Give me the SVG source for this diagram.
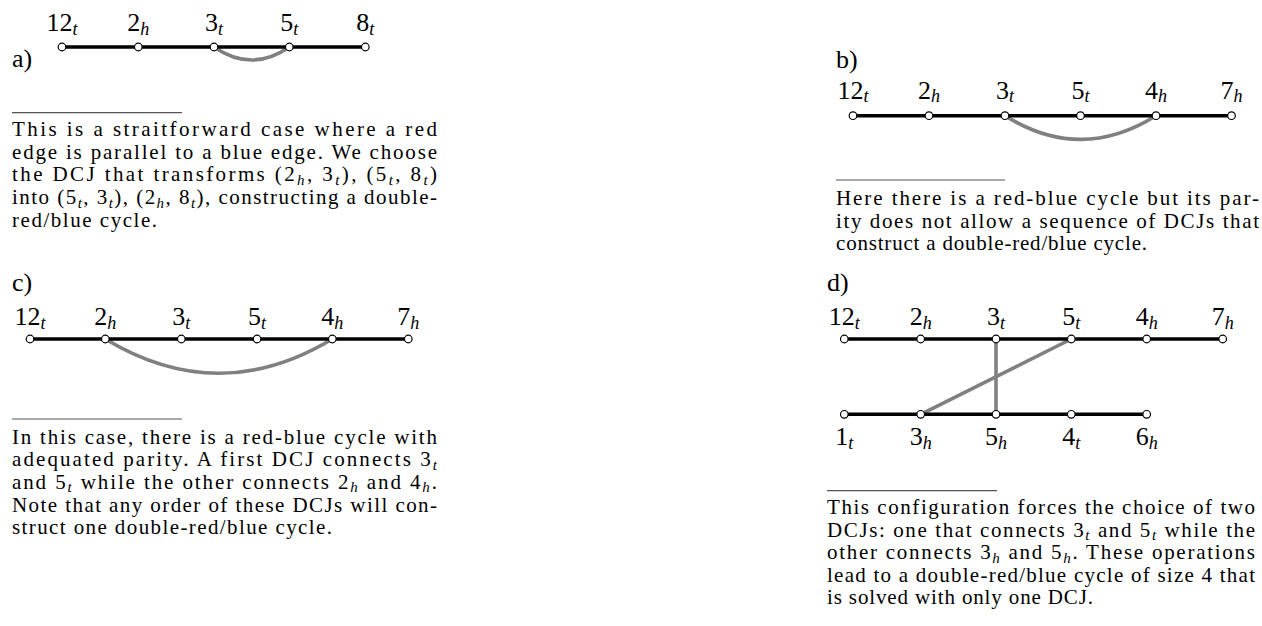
<svg xmlns="http://www.w3.org/2000/svg" width="1262" height="626" viewBox="0 0 1262 626">
<style>
.bk{stroke:#000;stroke-width:3.6;fill:none}
.gr{stroke:#808080;stroke-width:3.6;fill:none}
.nd{fill:#fff;stroke:#000;stroke-width:1.2}
.rule{stroke:#555;stroke-width:1.2}
.lbl{font-family:"Liberation Serif",serif;font-size:26px;text-anchor:middle;fill:#000}
.ls{font-size:18px;font-style:italic}
.tag{font-family:"Liberation Serif",serif;font-size:26px;fill:#000}
.cap{font-family:"Liberation Serif",serif;font-size:21px;fill:#000}
.cs{font-size:15px;font-style:italic}
</style>
<rect width="1262" height="626" fill="#fff"/>

<g id="connectors">
<path class="gr" d="M214 47 Q251.7 73 289.3 47"/>
<path class="bk" d="M62 47 H365.3"/>
<path class="gr" d="M1005 115.7 Q1080.5 163 1156 115.7"/>
<path class="bk" d="M853 115.7 H1231.5"/>
<path class="gr" d="M105.3 339 Q218.8 407.5 332.3 339"/>
<path class="bk" d="M30 339 H408.3"/>
<path class="gr" d="M996 339 V414.3"/>
<path class="gr" d="M1071.3 339 L920.7 414.3"/>
<path class="bk" d="M844.3 339 H1222.7"/>
<path class="bk" d="M844.3 414.3 H1146.7"/>
</g>

<g id="a-12t"><circle class="nd" cx="62" cy="47" r="3.8"/><text class="lbl" x="62" y="31">12<tspan class="ls" dy="3.5">t</tspan></text></g>
<g id="a-2h"><circle class="nd" cx="138.3" cy="47" r="3.8"/><text class="lbl" x="138.3" y="31">2<tspan class="ls" dy="3.5">h</tspan></text></g>
<g id="a-3t"><circle class="nd" cx="214" cy="47" r="3.8"/><text class="lbl" x="214" y="31">3<tspan class="ls" dy="3.5">t</tspan></text></g>
<g id="a-5t"><circle class="nd" cx="289.3" cy="47" r="3.8"/><text class="lbl" x="289.3" y="31">5<tspan class="ls" dy="3.5">t</tspan></text></g>
<g id="a-8t"><circle class="nd" cx="365.3" cy="47" r="3.8"/><text class="lbl" x="365.3" y="31">8<tspan class="ls" dy="3.5">t</tspan></text></g>
<text class="tag" x="12" y="66.5">a)</text>
<line class="rule" x1="12" y1="112.7" x2="182" y2="112.7"/>
<g class="cap">
<text x="12" y="136" textLength="425" lengthAdjust="spacing">This is a straitforward case where a red</text>
<text x="12" y="158.7" textLength="425" lengthAdjust="spacing">edge is parallel to a blue edge. We choose</text>
<text x="12" y="181.3" textLength="425" lengthAdjust="spacing">the DCJ that transforms (2<tspan class="cs" dy="3.5">h</tspan><tspan dy="-3.5">, 3</tspan><tspan class="cs" dy="3.5">t</tspan><tspan dy="-3.5">), (5</tspan><tspan class="cs" dy="3.5">t</tspan><tspan dy="-3.5">, 8</tspan><tspan class="cs" dy="3.5">t</tspan><tspan dy="-3.5">)</tspan></text>
<text x="12" y="204" textLength="425" lengthAdjust="spacing">into (5<tspan class="cs" dy="3.5">t</tspan><tspan dy="-3.5">, 3</tspan><tspan class="cs" dy="3.5">t</tspan><tspan dy="-3.5">), (2</tspan><tspan class="cs" dy="3.5">h</tspan><tspan dy="-3.5">, 8</tspan><tspan class="cs" dy="3.5">t</tspan><tspan dy="-3.5">), constructing a double-</tspan></text>
<text x="12" y="226.7" textLength="145" lengthAdjust="spacing">red/blue cycle.</text>
</g>

<text class="tag" x="836" y="68">b)</text>
<g id="b-12t"><circle class="nd" cx="853" cy="115.7" r="3.8"/><text class="lbl" x="853" y="98.5">12<tspan class="ls" dy="3.5">t</tspan></text></g>
<g id="b-2h"><circle class="nd" cx="929" cy="115.7" r="3.8"/><text class="lbl" x="929" y="98.5">2<tspan class="ls" dy="3.5">h</tspan></text></g>
<g id="b-3t"><circle class="nd" cx="1005" cy="115.7" r="3.8"/><text class="lbl" x="1005" y="98.5">3<tspan class="ls" dy="3.5">t</tspan></text></g>
<g id="b-5t"><circle class="nd" cx="1080.5" cy="115.7" r="3.8"/><text class="lbl" x="1080.5" y="98.5">5<tspan class="ls" dy="3.5">t</tspan></text></g>
<g id="b-4h"><circle class="nd" cx="1156" cy="115.7" r="3.8"/><text class="lbl" x="1156" y="98.5">4<tspan class="ls" dy="3.5">h</tspan></text></g>
<g id="b-7h"><circle class="nd" cx="1231.5" cy="115.7" r="3.8"/><text class="lbl" x="1231.5" y="98.5">7<tspan class="ls" dy="3.5">h</tspan></text></g>
<line class="rule" x1="836" y1="180" x2="1005" y2="180"/>
<g class="cap">
<text x="836" y="205" textLength="423" lengthAdjust="spacing">Here there is a red-blue cycle but its par-</text>
<text x="836" y="227.7" textLength="423" lengthAdjust="spacing">ity does not allow a sequence of DCJs that</text>
<text x="836" y="250.4" textLength="311" lengthAdjust="spacing">construct a double-red/blue cycle.</text>
</g>

<text class="tag" x="12" y="290.5">c)</text>
<g id="c-12t"><circle class="nd" cx="30" cy="339" r="3.8"/><text class="lbl" x="30" y="325">12<tspan class="ls" dy="3.5">t</tspan></text></g>
<g id="c-2h"><circle class="nd" cx="105.3" cy="339" r="3.8"/><text class="lbl" x="105.3" y="325">2<tspan class="ls" dy="3.5">h</tspan></text></g>
<g id="c-3t"><circle class="nd" cx="181.3" cy="339" r="3.8"/><text class="lbl" x="181.3" y="325">3<tspan class="ls" dy="3.5">t</tspan></text></g>
<g id="c-5t"><circle class="nd" cx="257" cy="339" r="3.8"/><text class="lbl" x="257" y="325">5<tspan class="ls" dy="3.5">t</tspan></text></g>
<g id="c-4h"><circle class="nd" cx="332.3" cy="339" r="3.8"/><text class="lbl" x="332.3" y="325">4<tspan class="ls" dy="3.5">h</tspan></text></g>
<g id="c-7h"><circle class="nd" cx="408.3" cy="339" r="3.8"/><text class="lbl" x="408.3" y="325">7<tspan class="ls" dy="3.5">h</tspan></text></g>
<line class="rule" x1="12" y1="419" x2="182" y2="419"/>
<g class="cap">
<text x="12" y="443.5" textLength="425" lengthAdjust="spacing">In this case, there is a red-blue cycle with</text>
<text x="12" y="466.2" textLength="425" lengthAdjust="spacing">adequated parity. A first DCJ connects 3<tspan class="cs" dy="3.5">t</tspan></text>
<text x="12" y="488.9" textLength="425" lengthAdjust="spacing">and 5<tspan class="cs" dy="3.5">t</tspan><tspan dy="-3.5"> while the other connects 2</tspan><tspan class="cs" dy="3.5">h</tspan><tspan dy="-3.5"> and 4</tspan><tspan class="cs" dy="3.5">h</tspan><tspan dy="-3.5">.</tspan></text>
<text x="12" y="511.6" textLength="425" lengthAdjust="spacing">Note that any order of these DCJs will con-</text>
<text x="12" y="534.3" textLength="320" lengthAdjust="spacing">struct one double-red/blue cycle.</text>
</g>

<text class="tag" x="827" y="290.5">d)</text>
<g id="d-12t"><circle class="nd" cx="844.3" cy="339" r="3.8"/><text class="lbl" x="844.3" y="325">12<tspan class="ls" dy="3.5">t</tspan></text></g>
<g id="d-2h"><circle class="nd" cx="920.7" cy="339" r="3.8"/><text class="lbl" x="920.7" y="325">2<tspan class="ls" dy="3.5">h</tspan></text></g>
<g id="d-3t"><circle class="nd" cx="996" cy="339" r="3.8"/><text class="lbl" x="996" y="325">3<tspan class="ls" dy="3.5">t</tspan></text></g>
<g id="d-5t"><circle class="nd" cx="1071.3" cy="339" r="3.8"/><text class="lbl" x="1071.3" y="325">5<tspan class="ls" dy="3.5">t</tspan></text></g>
<g id="d-4h"><circle class="nd" cx="1146.7" cy="339" r="3.8"/><text class="lbl" x="1146.7" y="325">4<tspan class="ls" dy="3.5">h</tspan></text></g>
<g id="d-7h"><circle class="nd" cx="1222.7" cy="339" r="3.8"/><text class="lbl" x="1222.7" y="325">7<tspan class="ls" dy="3.5">h</tspan></text></g>
<g id="d-1t"><circle class="nd" cx="844.3" cy="414.3" r="3.8"/><text class="lbl" x="844.3" y="445">1<tspan class="ls" dy="3.5">t</tspan></text></g>
<g id="d-3h"><circle class="nd" cx="920.7" cy="414.3" r="3.8"/><text class="lbl" x="920.7" y="445">3<tspan class="ls" dy="3.5">h</tspan></text></g>
<g id="d-5h"><circle class="nd" cx="996" cy="414.3" r="3.8"/><text class="lbl" x="996" y="445">5<tspan class="ls" dy="3.5">h</tspan></text></g>
<g id="d-4t"><circle class="nd" cx="1071.3" cy="414.3" r="3.8"/><text class="lbl" x="1071.3" y="445">4<tspan class="ls" dy="3.5">t</tspan></text></g>
<g id="d-6h"><circle class="nd" cx="1146.7" cy="414.3" r="3.8"/><text class="lbl" x="1146.7" y="445">6<tspan class="ls" dy="3.5">h</tspan></text></g>
<line class="rule" x1="827" y1="490.7" x2="997" y2="490.7"/>
<g class="cap">
<text x="827" y="514" textLength="428" lengthAdjust="spacing">This configuration forces the choice of two</text>
<text x="827" y="536.5" textLength="428" lengthAdjust="spacing">DCJs: one that connects 3<tspan class="cs" dy="3.5">t</tspan><tspan dy="-3.5"> and 5</tspan><tspan class="cs" dy="3.5">t</tspan><tspan dy="-3.5"> while the</tspan></text>
<text x="827" y="559" textLength="428" lengthAdjust="spacing">other connects 3<tspan class="cs" dy="3.5">h</tspan><tspan dy="-3.5"> and 5</tspan><tspan class="cs" dy="3.5">h</tspan><tspan dy="-3.5">. These operations</tspan></text>
<text x="827" y="581.5" textLength="428" lengthAdjust="spacing">lead to a double-red/blue cycle of size 4 that</text>
<text x="827" y="604" textLength="266" lengthAdjust="spacing">is solved with only one DCJ.</text>
</g>
</svg>
